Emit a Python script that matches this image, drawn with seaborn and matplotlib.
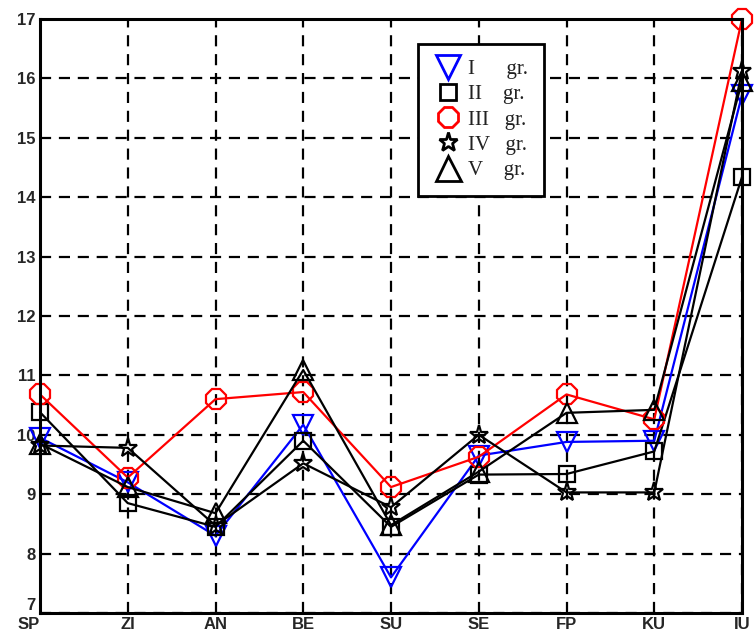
import numpy as np
import pandas as pd
import matplotlib
matplotlib.use("Agg")
import matplotlib.pyplot as plt
import seaborn as sns
from matplotlib.lines import Line2D

# ---- data ----
categories = ["SP", "ZI", "AN", "BE", "SU", "SE", "FP", "KU", "IU"]
groups = ["I", "II", "III", "IV", "V"]

g1 = [9.95, 9.2, 8.3, 10.17, 7.6, 9.65, 9.88, 9.9, 15.72]
g2 = [10.38, 8.85, 8.45, 9.9, 8.45, 9.33, 9.34, 9.72, 14.34]
g3 = [10.68, 9.28, 10.6, 10.72, 9.12, 9.63, 10.68, 10.26, 17.0]
g4 = [9.82, 9.78, 8.47, 9.52, 8.78, 10.0, 9.03, 9.03, 16.12]
g5 = [9.85, 9.12, 8.68, 11.09, 8.48, 9.38, 10.37, 10.42, 15.95]
values = [g1, g2, g3, g4, g5]

colors = ["blue", "black", "red", "black", "black"]
markers = ["v", "s", "8", "*", "^"]
msizes = [14, 12, 15, 14, 15]
leg_sizes = [17, 12, 16, 14, 18]

sns.set_style("white")
plt.rcParams["font.family"] = ["Liberation Sans", "DejaVu Sans"]

fig = plt.figure(figsize=(7.56, 6.39), dpi=100)
ax = fig.add_axes([40 / 756, 26 / 639, 702 / 756, 594 / 639])

for name, vals, c, m, ms in zip(groups, values, colors, markers, msizes):
    df = pd.DataFrame({"cat": categories, "val": vals})
    sns.lineplot(data=df, x="cat", y="val", sort=False, color=c, marker=m,
                 ms=ms, mfc="none", mec=c, mew=1.6, lw=1.6, ax=ax,
                 clip_on=False)

ax.set_xlim(0, len(categories) - 1)
ax.set_ylim(7, 17)
ax.set_yticks(range(7, 18))
ax.set_xlabel("")
ax.set_ylabel("")

ax.grid(True, color="black", linestyle=(0, (5, 3.5)), linewidth=1.6)
for s in ax.spines.values():
    s.set_color("black")
    s.set_linewidth(2.2)
    s.set_visible(True)

ax.tick_params(length=0, pad=3, labelsize=12)
for lab in ax.get_xticklabels() + ax.get_yticklabels():
    lab.set_fontweight("bold")
ax.get_yticklabels()[0].set_va("bottom")
ax.get_xticklabels()[0].set_ha("right")

handles = [Line2D([], [], linestyle="none", marker=m, ms=ms, mfc="none",
                  mec=c, mew=2) for c, m, ms in zip(colors, markers, leg_sizes)]
labels = ["I      gr.", "II    gr.", "III   gr.", "IV   gr.", "V    gr."]
leg = ax.legend(handles, labels, loc="upper left",
                bbox_to_anchor=(0.5385, 0.958), frameon=True, fancybox=False,
                handlelength=1.4, handletextpad=0.25, labelspacing=0.27,
                borderpad=0.75, borderaxespad=0,
                prop={"family": "Liberation Serif", "size": 15})
leg.get_frame().set_edgecolor("black")
leg.get_frame().set_linewidth(2)
leg.get_frame().set_alpha(1)
for t in leg.get_texts():
    t.set_color("#222222")

fig.savefig("out.png", dpi=100)
